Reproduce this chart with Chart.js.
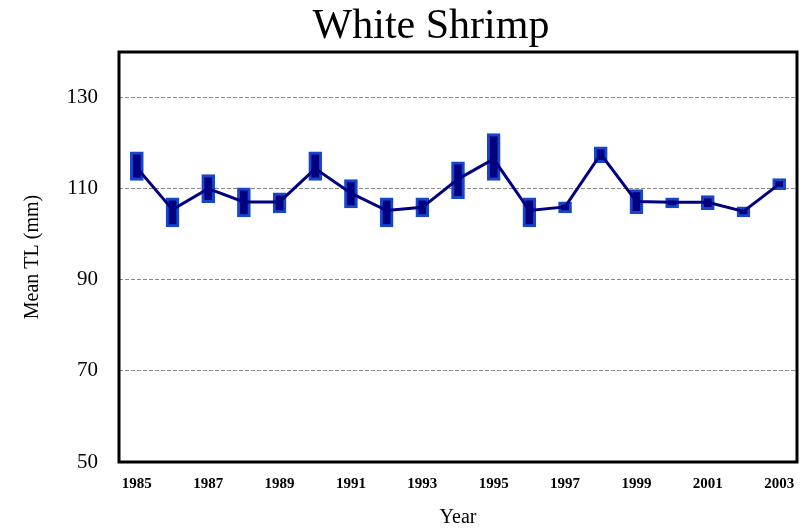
<!DOCTYPE html>
<html>
<head>
<meta charset="utf-8">
<script src="https://cdn.jsdelivr.net/npm/chart.js@4/dist/chart.umd.min.js"></script>
<style>
  html, body { margin: 0; padding: 0; background: #fff; }
  #wrap { width: 807px; height: 531px; }
</style>
</head>
<body>
<div id="wrap"><canvas id="chart1"></canvas></div>
<script>
//------------------------------------------- Data -------------------------------------------//
const years = ['1985', '1986', '1987', '1988', '1989', '1990', '1991', '1992', '1993', '1994',
               '1995', '1996', '1997', '1998', '1999', '2000', '2001', '2002', '2003'];
const meanTL = [114.6, 105.4, 110.0, 107.1, 107.1, 114.4, 109.0, 105.2, 105.9, 112.1,
                116.5, 105.2, 106.0, 117.6, 107.2, 107.0, 107.0, 105.0, 111.0];
const lowTL  = [111.8, 101.6, 106.9, 103.8, 104.7, 111.8, 105.8, 101.6, 103.8, 107.8,
                111.8, 101.6, 104.7, 115.7, 104.5, 105.8, 105.4, 103.8, 109.8];
const highTL = [118.1, 108.0, 113.1, 110.2, 109.1, 118.1, 112.0, 108.0, 108.0, 115.9,
                122.1, 108.0, 107.1, 119.2, 109.8, 108.0, 108.5, 106.0, 112.2];
const yTicks = [50, 70, 90, 110, 130];
const chartTitle = 'White Shrimp';

//------------------------------------------- Settings -------------------------------------------//
const serif = "'Liberation Serif', 'Times New Roman', serif";
const navy = '#000080';
const boxEdge = '#1846c8';

Chart.defaults.color = '#000';
Chart.defaults.font.family = serif;

// black frame round the plot area, and the title (sits a bit left of centre in the original)
const frame = {
    id: 'frame',
    afterDraw(chart) {
        const a = chart.chartArea;
        const ctx = chart.ctx;
        ctx.save();
        ctx.strokeStyle = '#000';
        ctx.lineWidth = 3;
        ctx.strokeRect(a.left, a.top, a.right - a.left, a.bottom - a.top);
        ctx.fillStyle = '#000';
        ctx.font = '42px ' + serif;
        ctx.textAlign = 'center';
        ctx.textBaseline = 'middle';
        ctx.fillText(chartTitle, 431, 27);
        ctx.restore();
    }
};

var ranges = years.map((y, i) => [lowTL[i], highTL[i]]);

var chart1 = new Chart(document.getElementById('chart1'), {
    type: 'bar',
    data: {
        labels: years,
        datasets: [{
            type: 'line',
            label: 'Mean TL',
            data: meanTL,
            borderColor: navy,
            borderWidth: 3,
            pointRadius: 0,
            tension: 0,
            order: 0
        }, {
            type: 'bar',
            label: 'Range',
            data: ranges,
            backgroundColor: navy,
            borderColor: boxEdge,
            borderWidth: 3,
            borderSkipped: false,
            barThickness: 13,
            order: 1
        }]
    },
    options: {
        responsive: true,
        maintainAspectRatio: false,
        animation: false,
        layout: {
            padding: { left: 0, right: 10, top: 52, bottom: 0 }
        },
        plugins: {
            legend: { display: false },
            tooltip: { enabled: false },
            title: { display: false }
        },
        scales: {
            x: {
                offset: true,
                grid: { display: false },
                border: { display: false },
                ticks: {
                    autoSkip: false,
                    maxRotation: 0,
                    padding: 5,
                    font: { family: serif, size: 15, weight: 'bold' },
                    callback: function(val, i) { return i % 2 === 0 ? years[i] : ''; }
                },
                title: {
                    display: true,
                    text: 'Year',
                    font: { family: serif, size: 20 },
                    padding: { top: 0, bottom: 1 }
                },
                afterFit: function(scale) { scale.height = 69; }
            },
            y: {
                min: 50,
                max: 140,
                grid: {
                    color: '#8a8a8a',
                    lineWidth: 1,
                    drawTicks: false
                },
                border: { display: false, dash: [4, 2] },
                ticks: {
                    padding: 21,
                    font: { family: serif, size: 21 }
                },
                afterBuildTicks: function(scale) {
                    scale.ticks = yTicks.map(v => ({ value: v }));
                },
                title: {
                    display: true,
                    text: 'Mean TL (mm)',
                    font: { family: serif, size: 20 },
                    padding: { top: 21, bottom: 0 }
                },
                afterFit: function(scale) { scale.width = 119; }
            }
        }
    },
    plugins: [frame]
});
</script>
</body>
</html>
